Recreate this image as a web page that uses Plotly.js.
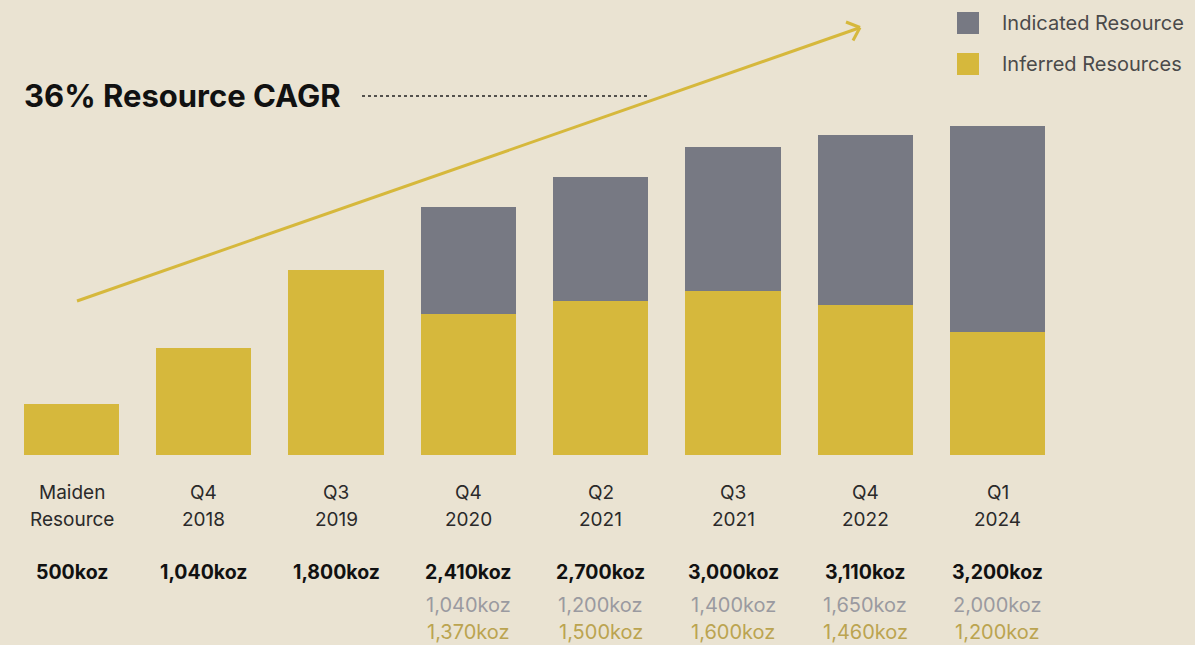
<!DOCTYPE html>
<html><head><meta charset="utf-8">
<script src="https://cdn.plot.ly/plotly-3.0.1.min.js"></script>
<style>html,body{margin:0;padding:0;background:#EAE3D2;}#chart{width:1195px;height:645px;}</style>
</head><body><div id="chart"></div>
<script>
const categories = ["Maiden\nResource","Q4\n2018","Q3\n2019","Q4\n2020","Q2\n2021","Q3\n2021","Q4\n2022","Q1\n2024"];
const inferred = [500, 1040, 1800, 1370, 1500, 1600, 1460, 1200];
const indicated = [0, 0, 0, 1040, 1200, 1400, 1650, 2000];
const totalLabels = ["500koz","1,040koz","1,800koz","2,410koz","2,700koz","3,000koz","3,110koz","3,200koz"];
const indicatedLabels = ["","","","1,040koz","1,200koz","1,400koz","1,650koz","2,000koz"];
const inferredLabels = ["","","","1,370koz","1,500koz","1,600koz","1,460koz","1,200koz"];
const seriesNames = ["Indicated Resource","Inferred Resources"];
const titleText = "36% Resource CAGR";

const W = 1195, H = 645;
const GOLD = "#D6B83C", GREY = "#777983", BG = "#EAE3D2";
const FONT = "Inter, 'Noto Sans', sans-serif";
const px = x => x / W, py = y => 1 - y / H;
const xs = categories.map((c, i) => i);

const traces = [
  {type: "bar", x: xs, y: inferred, name: seriesNames[1], marker: {color: GOLD}, hoverinfo: "skip"},
  {type: "bar", x: xs, y: indicated, name: seriesNames[0], marker: {color: GREY}, hoverinfo: "skip"}
];

const ann = [];
const txt = (x, yPix, text, size, color, bold, xanchor) => ann.push({
  x: x, xref: "x", y: py(yPix), yref: "paper", text: bold ? "<b>" + text + "</b>" : text,
  showarrow: false, xanchor: xanchor || "center", yanchor: "middle",
  font: {family: FONT, size: size, color: color}
});
categories.forEach((c, i) => {
  const parts = c.split("\n");
  txt(i, 492, parts[0], 19, "#2a2a2a");
  txt(i, 519, parts[1], 19, "#2a2a2a");
  txt(i, 572, totalLabels[i], 19.5, "#111111", true);
  if (indicatedLabels[i]) txt(i, 605, indicatedLabels[i], 20, "#9A9AA0");
  if (inferredLabels[i]) txt(i, 632, inferredLabels[i], 20, "#BBA450");
});
// title
ann.push({x: px(22), xref: "paper", y: py(95), yref: "paper", text: "<b>" + titleText + "</b>",
  showarrow: false, xanchor: "left", yanchor: "middle", font: {family: FONT, size: 31, color: "#111111"}});
// legend texts
ann.push({x: px(1000), xref: "paper", y: py(23), yref: "paper", text: seriesNames[0], showarrow: false,
  xanchor: "left", yanchor: "middle", font: {family: FONT, size: 20, color: "#4a4a4a"}});
ann.push({x: px(1000), xref: "paper", y: py(64), yref: "paper", text: seriesNames[1], showarrow: false,
  xanchor: "left", yanchor: "middle", font: {family: FONT, size: 20, color: "#4a4a4a"}});

const P = (x0, y0, x1, y1) => ({xref: "paper", yref: "paper", x0: px(x0), y0: py(y0), x1: px(x1), y1: py(y1)});
const shapes = [
  Object.assign({type: "rect", fillcolor: GREY, line: {width: 0}}, P(957, 12, 979, 34)),
  Object.assign({type: "rect", fillcolor: GOLD, line: {width: 0}}, P(957, 53, 979, 75)),
  Object.assign({type: "line", line: {color: "#222222", width: 1.5, dash: "dot"}}, P(362, 96, 647, 96)),
  Object.assign({type: "line", line: {color: GOLD, width: 3}}, P(77, 301, 859, 28)),
  Object.assign({type: "line", line: {color: GOLD, width: 3}}, P(846, 22, 860, 27.5)),
  Object.assign({type: "line", line: {color: GOLD, width: 3}}, P(853, 40.5, 860, 27.5))
];

const pxPerUnitX = 132.3, x0Pix = 71.5;
const pxPerK = 0.1028, baseY = 455;
const layout = {
  width: W, height: H, margin: {l: 0, r: 0, t: 0, b: 0},
  paper_bgcolor: BG, plot_bgcolor: BG,
  barmode: "stack", bargap: 0.28, showlegend: false,
  xaxis: {range: [-x0Pix / pxPerUnitX, (W - x0Pix) / pxPerUnitX], visible: false, fixedrange: true},
  yaxis: {range: [-(H - baseY) / pxPerK, baseY / pxPerK], visible: false, fixedrange: true},
  annotations: ann, shapes: shapes,
  font: {family: FONT}
};
Plotly.newPlot("chart", traces, layout, {displayModeBar: false, staticPlot: true});
</script></body></html>
